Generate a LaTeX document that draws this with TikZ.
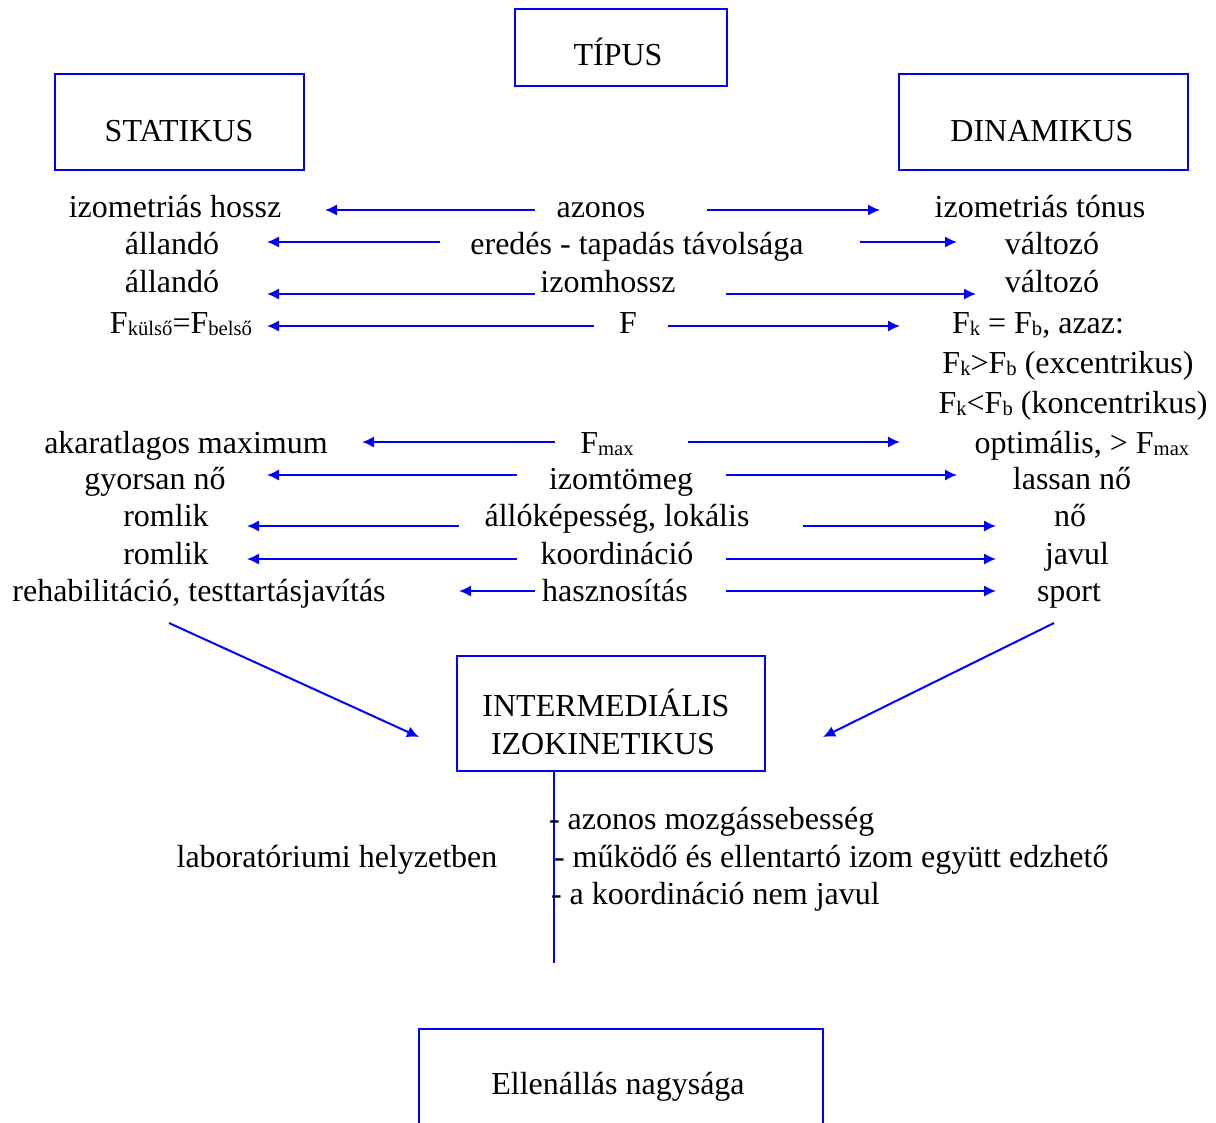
\documentclass[tikz,border=0pt]{standalone}
\usepackage{fontspec}
\setmainfont{Liberation Serif}
\usetikzlibrary{arrows.meta}
\newcommand{\lsub}[1]{\raisebox{-2.2pt}{\fontsize{15.5}{16}\selectfont #1}}
\begin{document}
\begin{tikzpicture}[x=0.75pt,y=-0.75pt,
  every node/.style={inner sep=0pt, outer sep=0pt},
  txt/.style={anchor=base, yshift=-0.75pt, font=\fontsize{24}{28}\selectfont},
  ltxt/.style={anchor=base west, yshift=-0.75pt, font=\fontsize{24}{28}\selectfont},
  box/.style={draw=blue, line width=1.6pt},
  arr/.style={draw=blue, line width=1.5pt, -{Latex[length=9pt,width=8.5pt]}},
  conn/.style={draw=blue, line width=1.6pt}]
\path[use as bounding box, clip] (0,0) rectangle (1216,1122);

% boxes
\node[box, minimum width=159pt, minimum height=57.75pt] (tipusbox) at (621,47.5) {};
\node[txt] (tipus) at (618,64) {TÍPUS};
\node[box, minimum width=186.75pt, minimum height=72pt] (statbox) at (179.5,122) {};
\node[txt] (stat) at (179,140) {STATIKUS};
\node[box, minimum width=216.75pt, minimum height=72pt] (dinbox) at (1043.5,122) {};
\node[txt] (din) at (1042,140) {DINAMIKUS};
\node[box, minimum width=231pt, minimum height=86.25pt] (interbox) at (611,713.5) {};
\node[txt] (inter1) at (606,715) {INTERMEDIÁLIS};
\node[txt] (inter2) at (603,753) {IZOKINETIKUS};
\node[box, minimum width=303pt, minimum height=120pt, anchor=north west] (ellbox) at (419,1029) {};
\node[txt] (ell) at (618,1093) {Ellenállás nagysága};

% rows
\node[txt] (L1) at (175,216) {izometriás hossz};
\node[txt] (M1) at (601,216) {azonos};
\node[txt] (R1) at (1040,216) {izometriás tónus};
\node[txt] (L2) at (172,253) {állandó};
\node[txt] (M2) at (637,253) {eredés - tapadás távolsága};
\node[txt] (R2) at (1052,253) {változó};
\node[txt] (L3) at (172,291) {állandó};
\node[txt] (M3) at (608,291) {izomhossz};
\node[txt] (R3) at (1052,291) {változó};
\node[txt] (L4) at (181,332) {F\lsub{külső}=F\lsub{belső}};
\node[txt] (M4) at (628,332) {F};
\node[txt] (R4) at (1038,332) {F\lsub{k} = F\lsub{b}, azaz:};
\node[txt] (R5) at (1068,372) {F\lsub{k}>F\lsub{b} (excentrikus)};
\node[txt] (R6) at (1073,412) {F\lsub{k}<F\lsub{b} (koncentrikus)};
\node[txt] (L7) at (186,452) {akaratlagos maximum};
\node[txt] (M7) at (607,452) {F\lsub{max}};
\node[txt] (R7) at (1082,452) {optimális, > F\lsub{max}};
\node[txt] (L8) at (155,488) {gyorsan nő};
\node[txt] (M8) at (621,488) {izomtömeg};
\node[txt] (R8) at (1072,488) {lassan nő};
\node[txt] (L9) at (166,525) {romlik};
\node[txt] (M9) at (617,525) {állóképesség, lokális};
\node[txt] (R9) at (1070,525) {nő};
\node[txt] (L10) at (166,563) {romlik};
\node[txt] (M10) at (617,563) {koordináció};
\node[txt] (R10) at (1077,563) {javul};
\node[txt] (L11) at (199,600) {rehabilitáció, testtartásjavítás};
\node[txt] (M11) at (615,600) {hasznosítás};
\node[txt] (R11) at (1069,600) {sport};

% arrow end points
\coordinate (la1) at (535,210); \coordinate (lb1) at (325,210);
\coordinate (ra1) at (707,210); \coordinate (rb1) at (880,210);
\coordinate (la2) at (440,242); \coordinate (lb2) at (267,242);
\coordinate (ra2) at (860,242); \coordinate (rb2) at (957,242);
\coordinate (la3) at (535,294); \coordinate (lb3) at (267,294);
\coordinate (ra3) at (726,294); \coordinate (rb3) at (976,294);
\coordinate (la4) at (594,326); \coordinate (lb4) at (267,326);
\coordinate (ra4) at (668,326); \coordinate (rb4) at (900,326);
\coordinate (la7) at (555,442); \coordinate (lb7) at (362,442);
\coordinate (ra7) at (688,442); \coordinate (rb7) at (900,442);
\coordinate (la8) at (517,475); \coordinate (lb8) at (267,475);
\coordinate (ra8) at (726,475); \coordinate (rb8) at (957,475);
\coordinate (la9) at (459,526); \coordinate (lb9) at (247,526);
\coordinate (ra9) at (803,526); \coordinate (rb9) at (996,526);
\coordinate (la10) at (517,559); \coordinate (lb10) at (247,559);
\coordinate (ra10) at (726,559); \coordinate (rb10) at (996,559);
\coordinate (la11) at (535,591); \coordinate (lb11) at (459,591);
\coordinate (ra11) at (726,591); \coordinate (rb11) at (996,591);
\foreach \i in {1,2,3,4,7,8,9,10,11}{
  \draw[arr] (la\i) -- (lb\i);
  \draw[arr] (ra\i) -- (rb\i);
}

% diagonal arrows
\coordinate (d1s) at (169,623); \coordinate (d1e) at (419,737);
\coordinate (d2s) at (1054,623); \coordinate (d2e) at (823,737);
\draw[arr] (d1s) -- (d1e);
\draw[arr] (d2s) -- (d2e);

% vertical line and list
\coordinate (vbot) at (554,963);
\draw[conn] (vbot |- interbox.south) -- (vbot);
\node[txt] (lab) at (337,866) {laboratóriumi helyzetben};
\node[ltxt] (b1) at (549,828) {- azonos mozgássebesség};
\node[ltxt] (b2) at (554,866) {- működő és ellentartó izom együtt edzhető};
\node[ltxt] (b3) at (551,903) {- a koordináció nem javul};
\end{tikzpicture}
\end{document}
